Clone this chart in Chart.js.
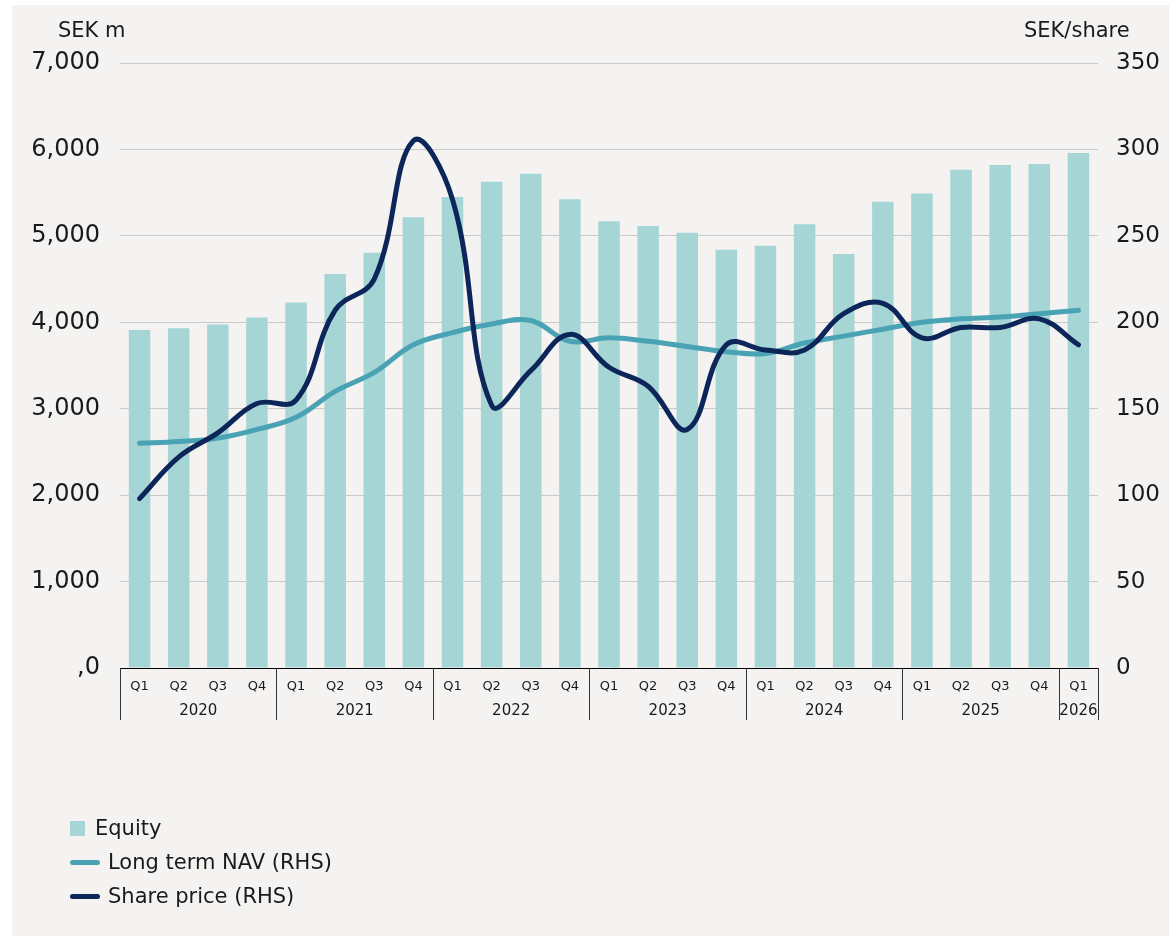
<!DOCTYPE html>
<html lang="en">
<head>
    <meta charset="UTF-8">
    <title>Equity, Long term NAV and Share price</title>
    <script src="https://cdn.jsdelivr.net/npm/chart.js"></script>
    <style>
        body {
            margin: 0;
            background: #ffffff;
            font-family: "DejaVu Sans", sans-serif;
        }
        .panel {
            position: absolute;
            left: 12px;
            top: 5px;
            width: 1157px;
            height: 931px;
            background: #f4f3f1;
        }
        #chart-wrap {
            position: absolute;
            left: 0;
            top: 0;
            width: 1171px;
            height: 937px;
        }
        .axis-title {
            position: absolute;
            font-size: 21px;
            color: #1a1a1a;
            line-height: 22px;
        }
        .legend {
            position: absolute;
            left: 70px;
            top: 811px;
            font-size: 21px;
            color: #1a1a1a;
        }
        .legend-item {
            display: flex;
            align-items: center;
            height: 34px;
        }
        .swatch-box {
            width: 15px;
            height: 15px;
            margin-right: 10px;
        }
        .swatch-line {
            width: 30px;
            height: 5px;
            border-radius: 3px;
            margin-right: 8px;
        }
    </style>
</head>
<body>
    <div class="panel"></div>
    <div id="chart-wrap">
        <canvas id="equity-chart" width="1171" height="937"></canvas>
    </div>
    <div class="axis-title" style="left:58px; top:19px;">SEK m</div>
    <div class="axis-title" style="left:1024px; top:19px;">SEK/share</div>
    <div class="legend" id="legend"></div>

    <script>
        // Data
        const quarters = ['Q1', 'Q2', 'Q3', 'Q4', 'Q1', 'Q2', 'Q3', 'Q4', 'Q1', 'Q2', 'Q3', 'Q4',
                          'Q1', 'Q2', 'Q3', 'Q4', 'Q1', 'Q2', 'Q3', 'Q4', 'Q1', 'Q2', 'Q3', 'Q4', 'Q1'];
        const years = ['2020', '2021', '2022', '2023', '2024', '2025', '2026'];
        const quartersPerYear = [4, 4, 4, 4, 4, 4, 1];

        const equity = [3910, 3930, 3975, 4055, 4230, 4560, 4805, 5215, 5450, 5625, 5720, 5425,
                        5170, 5115, 5035, 4840, 4885, 5135, 4790, 5395, 5490, 5765, 5820, 5830, 5960];
        const longTermNav = [130, 131, 133, 138, 145, 160, 171, 187, 194, 199, 201, 189,
                             191, 189, 186, 183, 182, 188, 192, 196, 200, 202, 203, 205, 207];
        const sharePrice = [98, 122, 136, 153, 155, 207, 225, 305, 271, 152, 172, 193,
                            174, 163, 138, 187, 184, 184, 205, 211, 191, 197, 197, 202, 187];

        const leftTicks = [0, 1000, 2000, 3000, 4000, 5000, 6000, 7000];
        const rightTicks = [0, 50, 100, 150, 200, 250, 300, 350];

        const colors = {
            equity: '#a5d6d5',
            nav: '#4aa2b5',
            share: '#0c2659',
            grid: '#c9c9c9',
            text: '#1a1a1a'
        };

        const fontFamily = '"DejaVu Sans", sans-serif';

        // Year groups and separators under the quarter labels
        const yearGroupsPlugin = {
            id: 'yearGroups',
            afterDraw(chart) {
                const ctx = chart.ctx;
                const x = chart.scales.x;
                const area = chart.chartArea;
                const half = (x.getPixelForValue(1) - x.getPixelForValue(0)) / 2;
                ctx.save();
                ctx.strokeStyle = '#333333';
                ctx.lineWidth = 1;
                ctx.fillStyle = colors.text;
                ctx.font = '15px ' + fontFamily;
                ctx.textAlign = 'center';
                ctx.textBaseline = 'middle';
                let start = 0;
                const edges = [area.left];
                years.forEach((yr, i) => {
                    const end = start + quartersPerYear[i] - 1;
                    const left = x.getPixelForValue(start) - half;
                    const right = x.getPixelForValue(end) + half;
                    edges.push(right);
                    ctx.fillText(yr, (left + right) / 2, 711);
                    start = end + 1;
                });
                edges.forEach(e => {
                    const px = Math.round(e) + 0.5;
                    ctx.beginPath();
                    ctx.moveTo(px, area.bottom);
                    ctx.lineTo(px, 720);
                    ctx.stroke();
                });
                ctx.restore();
            }
        };

        const ctx = document.getElementById('equity-chart').getContext('2d');
        const chart = new Chart(ctx, {
            type: 'bar',
            data: {
                labels: quarters,
                datasets: [
                    {
                        label: 'Share price (RHS)',
                        type: 'line',
                        data: sharePrice,
                        yAxisID: 'y1',
                        borderColor: colors.share,
                        borderWidth: 5,
                        borderCapStyle: 'round',
                        pointRadius: 0,
                        tension: 0.4,
                        order: 1
                    },
                    {
                        label: 'Long term NAV (RHS)',
                        type: 'line',
                        data: longTermNav,
                        yAxisID: 'y1',
                        borderColor: colors.nav,
                        borderWidth: 5,
                        borderCapStyle: 'round',
                        pointRadius: 0,
                        tension: 0.4,
                        order: 2
                    },
                    {
                        label: 'Equity',
                        data: equity,
                        yAxisID: 'y',
                        backgroundColor: colors.equity,
                        barPercentage: 0.55,
                        categoryPercentage: 1,
                        order: 3
                    }
                ]
            },
            options: {
                responsive: false,
                animation: false,
                layout: {
                    padding: { left: 0, right: 0, top: 63, bottom: 209 }
                },
                plugins: {
                    legend: { display: false },
                    tooltip: { enabled: false }
                },
                scales: {
                    x: {
                        grid: { display: false, drawTicks: false },
                        border: { color: '#000000', width: 1 },
                        ticks: {
                            color: colors.text,
                            font: { family: fontFamily, size: 13 },
                            padding: 11,
                            maxRotation: 0,
                            autoSkip: false
                        },
                        afterFit(scale) { scale.height = 60; }
                    },
                    y: {
                        position: 'left',
                        min: 0,
                        max: 7000,
                        afterBuildTicks(scale) {
                            scale.ticks = leftTicks.map(v => ({ value: v }));
                        },
                        grid: { color: colors.grid, lineWidth: 1, drawTicks: false },
                        border: { display: false },
                        ticks: {
                            color: colors.text,
                            font: { family: fontFamily, size: 24 },
                            padding: 20,
                            callback: v => v === 0 ? ',0' : v.toLocaleString('en-US')
                        },
                        afterFit(scale) { scale.width = 120; }
                    },
                    y1: {
                        position: 'right',
                        min: 0,
                        max: 350,
                        afterBuildTicks(scale) {
                            scale.ticks = rightTicks.map(v => ({ value: v }));
                        },
                        grid: { display: false, drawTicks: false },
                        border: { display: false },
                        ticks: {
                            color: colors.text,
                            font: { family: fontFamily, size: 23 },
                            padding: 18
                        },
                        afterFit(scale) { scale.width = 73; }
                    }
                }
            },
            plugins: [yearGroupsPlugin]
        });

        // HTML legend in the reference order
        const legendItems = [
            { label: 'Equity', color: colors.equity, kind: 'box' },
            { label: 'Long term NAV (RHS)', color: colors.nav, kind: 'line' },
            { label: 'Share price (RHS)', color: colors.share, kind: 'line' }
        ];
        const legend = document.getElementById('legend');
        legendItems.forEach(item => {
            const row = document.createElement('div');
            row.className = 'legend-item';
            const sw = document.createElement('span');
            sw.className = item.kind === 'box' ? 'swatch-box' : 'swatch-line';
            sw.style.background = item.color;
            const txt = document.createElement('span');
            txt.textContent = item.label;
            row.appendChild(sw);
            row.appendChild(txt);
            legend.appendChild(row);
        });
    </script>
</body>
</html>
